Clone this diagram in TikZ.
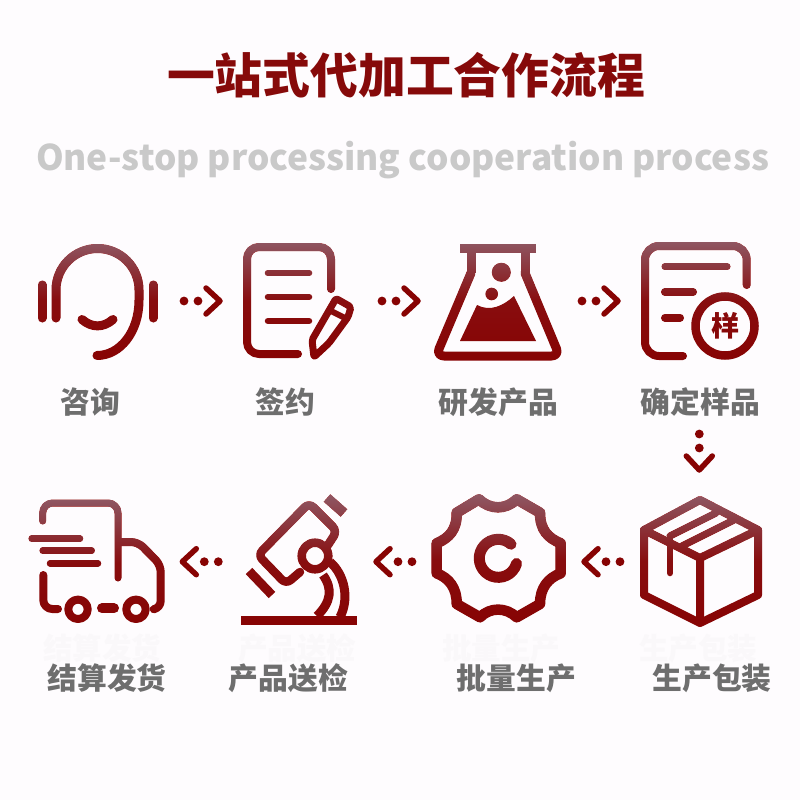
\documentclass[tikz,border=0pt]{standalone}
\usepackage{fontspec}
\setmainfont{Noto Sans CJK SC}
\definecolor{bgc}{HTML}{FEFCFE}
\definecolor{iconred}{HTML}{870303}
\definecolor{icontop}{HTML}{8F5864}
\definecolor{titlered}{HTML}{860A0A}
\definecolor{subgray}{HTML}{C9C9C9}
\definecolor{labelgray}{HTML}{6E6E6E}
\definecolor{ghost}{HTML}{FAF8FA}
\tikzset{
  icon/.style={draw=iconred,line cap=round,line join=round,line width=#1},
  icon/.default=8pt,
  steplabel/.style={font=\bfseries\fontsize{29.8}{32}\selectfont,text=labelgray,inner sep=0pt},
  ghostlabel/.style={font=\bfseries\fontsize{29.5}{32}\selectfont,text=ghost,inner sep=0pt},
  fadeband/.style={top color=icontop,bottom color=iconred,middle color=iconred!88!icontop,draw=none},
  flowarrow/.pic={
    \fill[iconred] (-36,0) circle[radius=4.4pt] (-22,0) circle[radius=4.4pt];
    \draw[icon=5.5pt] (-14,-13) -- (0,0) -- (-14,13);
  }
}
\begin{document}
\begin{tikzpicture}[x=1pt,y=-1pt]
\useasboundingbox (0,0) rectangle (800,800);
\fill[bgc] (0,0) rectangle (800,800);
% faint ghost labels
\node[ghostlabel] (g3) at (102,648) {结算发货};
\node[ghostlabel] (g4) at (297,648) {产品送检};
\node[ghostlabel] (g5) at (501,648) {批量生产};
\node[ghostlabel] (g6) at (698,648) {生产包装};
% headings
\node[inner sep=0pt,text=titlered,font=\bfseries\fontsize{47.8}{50}\selectfont] (title) at (406,75) {一站式代加工合作流程};
\node[inner sep=0pt,text=subgray,font=\bfseries\fontsize{35.3}{40}\selectfont] (subtitle) at (402.5,160) {One-stop processing cooperation process};
% labels
\node[steplabel] (l1) at (90,402) {咨询};
\node[steplabel] (l2) at (285.5,402) {签约};
\node[steplabel] (l3) at (498.5,402) {研发产品};
\node[steplabel] (l4) at (700.5,402) {确定样品};
\node[steplabel] (l5) at (107,678) {结算发货};
\node[steplabel] (l6) at (288.5,678) {产品送检};
\node[steplabel] (l7) at (516.5,678) {批量生产};
\node[steplabel] (l8) at (712,678) {生产包装};
% headset
\draw[icon=9pt] (42,285) -- (42,318);
\draw[icon=9pt] (153,285) -- (153,318);
\draw[icon=9pt] (56,318) -- (56,290) arc[start angle=180,end angle=0,radius=41.5pt] -- (139,300)
   .. controls (139,332) and (120,355.5) .. (97,355.5);
\draw[icon=9pt] (82,319.5) .. controls (92,328) and (103,328) .. (113,319.5);
% document + pencil
\draw[icon=8pt,rounded corners=12pt] (331,289) -- (331,247) -- (247,247) -- (247,354) -- (298,354);
\draw[icon=6.5pt] (268,273) -- (309,273) (268,297) -- (309,297) (268,321) -- (309,321);
\draw[icon=7pt,rounded corners=2pt] (336,298.5) -- (351,307) -- (348,317) -- (329,343) -- (314,357) -- (312,340) -- cycle;
\draw[icon=6pt,line cap=butt] (329,310) -- (345,318);
% flask
\fill[iconred] (460,244) rectangle (536,253);
\draw[icon=9pt,rounded corners=2pt,line cap=butt] (471,252) -- (471,273);
\draw[icon=9pt,rounded corners=2pt,line cap=butt] (525,252) -- (525,273);
\draw[icon=9pt,rounded corners=8pt] (471,273) -- (436,356) -- (559.5,356) -- (525,273);
\fill[iconred] (460,341) -- (536,341) -- (514,296) .. controls (503,306) and (490,312) .. (477,305) -- cycle;
\fill[iconred] (501.3,272.3) circle[radius=9.5pt] (491.7,294) circle[radius=6.3pt];
% sample document
\draw[icon=8pt,rounded corners=14pt] (746.7,285) -- (746.7,246) -- (645,246) -- (645,356) -- (683,356);
\draw[icon=7pt] (665,266.7) -- (727,266.7);
\draw[icon=8pt] (665,292) -- (693,292) (665,317.7) -- (680,317.7);
\node[circle,draw=iconred,line width=8.5pt,minimum size=59pt,inner sep=0pt,fill=bgc,text=iconred,font=\bfseries\fontsize{28}{30}\selectfont] (sample) at (725,326) {样};
% box
\draw[icon=8pt] (700,500) -- (758,530) -- (758,595) -- (700,623) -- (644,595) -- (644,530) -- cycle;
\draw[icon=8pt] (644,530) -- (700,558) -- (758,530) (700,558) -- (700,623);
\draw[icon=7pt] (670,536) -- (716,513) (682,546) -- (734,520);
\draw[icon=6.5pt] (670,537) -- (670,573);
% gear
\draw[icon=10.5pt] (479,499.3) .. controls (490,510) and (506,510) .. (516.7,499.3)
 -- (540,512.7) .. controls (540,530) and (548,538) .. (560.7,543.3)
 -- (560.7,573.3) .. controls (548,578) and (540,588) .. (540,604)
 -- (516.7,617.3) .. controls (506,607) and (490,607) .. (480,617.3)
 -- (456.7,604) .. controls (457,588) and (449,578) .. (436.7,573.3)
 -- (436.7,543.3) .. controls (449,538) and (457,530) .. (456.7,512.7)
 -- cycle;
\draw[icon=11pt] (511,544.2) arc[start angle=48,end angle=344,radius=19pt];
% microscope
\draw[icon=8.5pt,rounded corners=6pt] (328,545) -- (337,531) -- (309,503) -- (258,555) -- (286,584) -- (300,572);
\draw[draw=iconred,line width=10pt] (327,498) -- (344,513);
\draw[draw=iconred,line width=9pt] (249,571) -- (272,595);
\draw[icon=8.5pt] (315,556) circle[radius=13.3pt];
\draw[icon=9pt,line cap=butt] (330,562) .. controls (344,574) and (350,598) .. (340,617);
\draw[icon=9pt,line cap=butt] (323,575) .. controls (333,589) and (331,602) .. (317,616);
\fill[iconred] (240.7,616) rectangle (357,625);
% truck
\draw[icon=7pt,rounded corners=10pt] (42.7,521) -- (42.7,503) -- (118,503) -- (118,578);
\draw[icon=6.5pt] (31.7,538.7) -- (80,538.7) (42.7,550.7) -- (91.7,550.7) (50,563.3) -- (98,563.3);
\draw[icon=8pt,rounded corners=7pt] (120,542) -- (138,542) -- (160.7,565) -- (160.7,608) -- (155,609);
\draw[icon=8pt,rounded corners=9pt] (43.3,575) -- (43.3,609) -- (58,609);
\draw[icon=8pt] (78,609.3) circle[radius=9.7pt] (136,609.3) circle[radius=9.7pt];
\draw[icon=10pt] (102,608.3) -- (114,608.3);
% gradient on the icons only: lighten leaves the pale background alone
\begin{scope}[blend mode=lighten]
\shade[fadeband] (25,240) rectangle (170,360);
\shade[fadeband] (240,240) rectangle (358,362);
\shade[fadeband] (430,240) rectangle (565,362);
\shade[fadeband] (638,240) rectangle (762,362);
\shade[fadeband] (25,498) rectangle (168,628);
\shade[fadeband] (238,494) rectangle (360,628);
\shade[fadeband] (428,494) rectangle (570,625);
\shade[fadeband] (636,494) rectangle (764,628);
\end{scope}
% arrows
\coordinate (a1) at (220,301);
\coordinate (a2) at (418,301);
\coordinate (a3) at (618,301);
\coordinate (a4) at (699.3,470);
\coordinate (a5) at (584,561.7);
\coordinate (a6) at (376,561.7);
\coordinate (a7) at (182.3,561.7);
\pic at (a1) {flowarrow};
\pic at (a2) {flowarrow};
\pic at (a3) {flowarrow};
\pic[rotate=-90] at (a4) {flowarrow};
\pic[rotate=180] at (a5) {flowarrow};
\pic[rotate=180] at (a6) {flowarrow};
\pic[rotate=180] at (a7) {flowarrow};
\end{tikzpicture}
\end{document}
